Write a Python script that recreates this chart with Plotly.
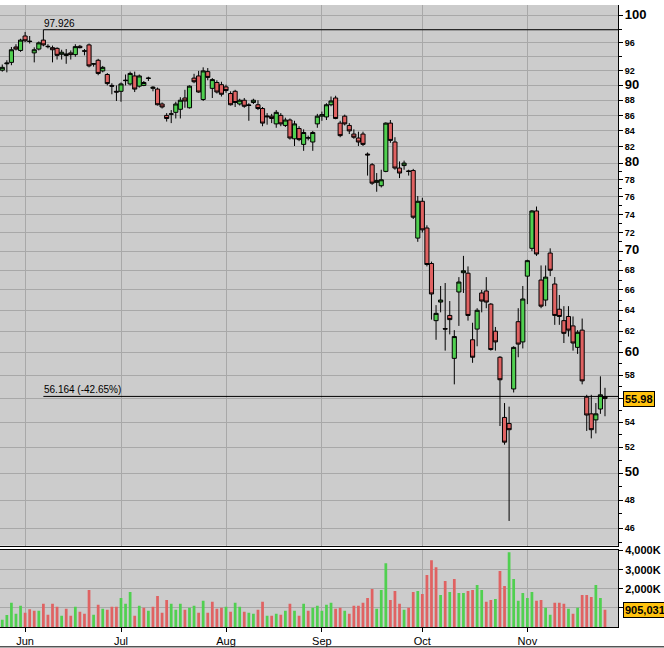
import math
import pandas as pd
import plotly.graph_objects as go

# ---------------- data ----------------
dates = [d.strftime('%Y-%m-%d') for d in pd.bdate_range('2008-05-26', '2008-11-26')]

opens = [92.1, 93.0, 93.2, 95.4, 94.9, 97.0, 96.25, 94.55, 95.1, 96.4,
         95.5, 95.3, 95.2, 94.35, 94.17, 94.55, 94.3, 95.5, 94.85, 95.7,
         92.95, 93.5, 92.0, 91.5, 90.0, 89.2, 89.2, 90.65, 90.2, 91.3,
         89.9, 90.0, 90.95, 89.6, 89.5, 87.5, 86.0, 86.15, 86.4, 86.8,
         88.3, 87.0, 91.0, 91.3, 88.1, 91.9, 89.6, 90.4, 90.1, 89.8,
         88.9, 89.2, 87.5, 88.0, 87.3, 87.7, 87.4, 86.9, 85.8, 85.9,
         84.9, 86.0, 84.7, 85.4, 83.0, 84.3, 82.3, 83.15, 82.6, 84.9,
         85.9, 85.8, 87.4, 88.3, 85.0, 85.9, 84.7, 83.6, 83.1, 83.6,
         81.1, 79.8, 77.7, 77.3, 79.0, 85.0, 82.6, 79.4, 79.7, 79.05,
         79.1, 71.4, 75.5, 72.5, 68.7, 63.0, 64.8, 62.25, 63.5, 59.5,
         65.8, 67.75, 67.7, 61.2, 62.2, 65.7, 65.9, 64.6, 62.0, 59.6,
         54.4, 53.9, 56.8, 62.9, 61.0, 67.4, 70.3, 74.4, 67.0, 65.0,
         69.8, 66.6, 64.1, 63.0, 63.4, 62.5, 60.5, 62.1, 56.1, 54.7,
         54.2, 55.1, 56.15]
highs = [92.9, 93.5, 95.4, 95.8, 96.6, 97.6, 97.0, 95.35, 96.2, 97.926,
         95.8, 95.6, 95.35, 95.0, 95.1, 94.9, 95.8, 95.7, 95.1, 95.9,
         93.1, 93.7, 92.7, 91.7, 90.3, 90.0, 90.4, 91.5, 91.9, 91.9,
         91.5, 90.6, 91.2, 89.9, 89.7, 87.7, 86.3, 86.7, 87.8, 88.4,
         89.4, 90.0, 91.6, 92.0, 92.5, 92.4, 91.0, 90.7, 90.5, 90.1,
         89.2, 89.4, 88.2, 88.3, 87.6, 88.2, 88.0, 87.1, 86.3, 86.2,
         86.7, 86.3, 85.7, 85.6, 85.3, 84.6, 84.2, 83.4, 84.0, 86.2,
         86.5, 87.6, 88.5, 88.6, 85.3, 86.1, 85.0, 84.2, 83.9, 83.9,
         81.3, 80.0, 78.8, 79.2, 85.1, 85.4, 83.2, 80.2, 80.3, 79.2,
         79.3, 76.1, 75.9, 72.8, 68.9, 64.5, 66.4, 66.7, 64.9, 62.1,
         67.3, 69.5, 68.4, 62.8, 64.2, 66.0, 67.3, 64.7, 62.4, 59.7,
         55.6, 55.3, 60.6, 64.2, 66.4, 69.1, 74.5, 74.9, 68.5, 68.5,
         70.3, 67.3, 65.5, 64.4, 64.4, 63.4, 62.1, 63.2, 56.3, 56.3,
         55.6, 57.9, 56.9]
lows = [91.9, 91.8, 92.8, 94.9, 94.7, 96.1, 95.9, 93.2, 94.9, 95.5,
        95.2, 93.2, 93.6, 93.6, 93.0, 93.6, 94.0, 95.2, 94.2, 92.5,
        92.6, 91.4, 91.8, 90.0, 88.8, 87.9, 87.8, 90.0, 90.0, 89.1,
        89.7, 89.9, 90.6, 89.2, 87.3, 86.9, 85.2, 85.0, 85.6, 85.6,
        87.0, 86.9, 90.3, 89.0, 87.9, 90.7, 88.3, 88.9, 88.5, 89.0,
        87.3, 87.1, 87.3, 87.0, 85.3, 87.5, 86.7, 84.6, 84.8, 85.0,
        84.4, 84.6, 84.5, 82.9, 82.1, 82.7, 81.5, 82.8, 81.5, 84.4,
        85.3, 85.4, 87.2, 85.5, 83.2, 84.7, 83.6, 83.0, 82.1, 82.1,
        78.5, 77.4, 76.6, 77.1, 78.9, 82.5, 79.2, 78.2, 79.2, 78.5,
        73.5, 71.0, 72.0, 68.4, 63.1, 61.2, 63.8, 60.2, 61.7, 57.2,
        62.5, 65.7, 63.0, 59.1, 60.6, 63.8, 64.2, 60.2, 60.2, 53.7,
        52.2, 46.5, 56.5, 59.6, 60.4, 64.6, 70.0, 69.5, 64.2, 64.4,
        67.4, 62.6, 62.6, 60.9, 61.5, 60.2, 59.9, 57.2, 53.3, 52.7,
        53.1, 54.7, 54.5]
closes = [92.5, 93.1, 95.0, 95.1, 96.4, 96.3, 96.2, 95.0, 96.0, 95.7,
          95.45, 95.0, 94.2, 94.64, 94.4, 94.3, 95.45, 95.3, 94.8, 92.7,
          93.0, 91.65, 92.5, 90.25, 89.9, 89.1, 90.2, 90.7, 91.65, 89.5,
          91.3, 90.4, 91.0, 89.75, 87.4, 87.1, 85.6, 86.2, 87.5, 88.0,
          87.9, 89.9, 90.5, 89.1, 92.0, 91.1, 90.8, 89.1, 88.8, 89.3,
          87.4, 87.7, 88.0, 87.2, 87.36, 88.0, 86.9, 85.0, 85.9, 85.6,
          86.4, 84.9, 85.4, 83.1, 84.9, 82.9, 83.8, 83.1, 83.8, 85.9,
          86.1, 87.4, 87.9, 85.6, 83.4, 84.9, 84.0, 83.2, 82.6, 82.3,
          81.0, 77.6, 77.9, 78.0, 85.0, 82.8, 79.4, 78.8, 80.0, 79.0,
          73.7, 75.5, 72.3, 68.6, 65.6, 63.7, 65.0, 62.2, 63.1, 61.5,
          66.8, 67.95, 63.5, 59.6, 64.0, 64.9, 64.8, 60.3, 61.0, 57.6,
          52.4, 53.4, 60.5, 60.8, 65.1, 69.0, 74.4, 69.7, 64.4, 67.3,
          68.0, 63.5, 63.4, 61.8, 62.1, 60.9, 61.9, 57.5, 54.6, 53.4,
          54.7, 56.3, 55.98]
volume_k = [381, 623, 1264, 693, 1108, 745, 935, 848, 848, 1212,
            641, 1212, 1056, 589, 952, 589, 1056, 797, 693, 1939,
            641, 1160, 952, 900, 1056, 1056, 1524, 1212, 1835, 589,
            1108, 1004, 848, 1056, 1628, 745, 1420, 1212, 900, 1212,
            900, 1004, 1108, 745, 1368, 745, 1316, 952, 1004, 1056,
            797, 1264, 1056, 797, 745, 693, 900, 1316, 589, 589,
            693, 641, 848, 1212, 848, 589, 1212, 848, 1004, 1108,
            848, 1160, 1264, 952, 1004, 848, 693, 1108, 1108, 1264,
            1524, 1991, 952, 1939, 3342, 1420, 1887, 1212, 900, 1004,
            1835, 1887, 1732, 2719, 3498, 3134, 1680, 2407, 1835, 2511,
            1784, 1784, 1887, 1939, 2199, 1939, 1316, 1420, 1472, 2926,
            2147, 3913, 2511, 1368, 1784, 1524, 1835, 1368, 1420, 1004,
            641, 1264, 1264, 1212, 952, 693, 1004, 1680, 1680, 1576,
            2199, 1524, 905.031]

peak_value = 97.926
level_value = 56.164
level_pct = -42.65
last_volume_shares = 905031

price_grid = list(range(46, 101, 2))
price_major = [100, 90, 80, 70, 60, 50]
price_hidden = [98, 94, 56]
price_minor = [98, 94] + list(range(45, 80, 2))
vol_ticks = [1000, 2000, 3000, 4000]

# ---------------- styles ----------------
GREEN = '#50D050'
RED = '#E06262'
PLOT_BG = '#CCCCCC'
GRID = '#A8A8A8'
LABEL_BG = '#FFC20E'
FONT = 'Liberation Sans, Arial, sans-serif'

n = len(dates)
peak_idx = highs.index(max(highs))

vol_colors = [GREEN] + [GREEN if closes[i] >= closes[i - 1] else RED for i in range(1, n)]

month_idx = [i for i in range(1, n) if dates[i][5:7] != dates[i - 1][5:7]]
month_vals = [dates[i] for i in month_idx]
month_text = [pd.Timestamp(dates[i]).strftime('%b') for i in month_idx]

def price_label(v):
    if v in price_hidden:
        return ''
    if v in price_major:
        return '<span style="font-size:13px">%d</span>' % v
    return str(v)

price_text = [price_label(v) for v in price_grid]
vol_text = ['' if v == 1000 else '{:,}K'.format(v) for v in vol_ticks]

x_range = [-0.5, 134.85]
y_range = [math.log10(44.79), math.log10(101.67)]

fig = go.Figure()
fig.add_trace(go.Candlestick(
    x=dates, open=opens, high=highs, low=lows, close=closes,
    increasing=dict(line=dict(color='black', width=1), fillcolor=GREEN),
    decreasing=dict(line=dict(color='black', width=1), fillcolor=RED),
    whiskerwidth=0, xaxis='x', yaxis='y', hoverinfo='skip', showlegend=False))
fig.add_trace(go.Bar(
    x=dates, y=volume_k, marker=dict(color=vol_colors, line=dict(width=0)),
    xaxis='x2', yaxis='y2', hoverinfo='skip', showlegend=False))

fig.update_layout(
    width=664, height=648,
    margin=dict(l=0, r=46, t=0, b=21),
    paper_bgcolor='white', plot_bgcolor=PLOT_BG,
    showlegend=False, bargap=0.4, boxgap=0.1, boxgroupgap=0,
    font=dict(family=FONT, color='black'),
    xaxis=dict(type='category', range=x_range, domain=[0, 1], anchor='y',
               rangeslider=dict(visible=False),
               tickvals=month_vals, ticktext=month_text, showticklabels=False,
               ticks='', showgrid=True, gridcolor=GRID, gridwidth=1,
               showline=True, linecolor='black', linewidth=1, zeroline=False),
    xaxis2=dict(type='category', matches='x', anchor='y2', domain=[0, 1],
                tickvals=month_vals, ticktext=month_text,
                ticks='outside', ticklen=4, tickcolor='black',
                tickfont=dict(size=11, family=FONT, color='black'),
                showgrid=True, gridcolor=GRID, gridwidth=1,
                showline=True, linecolor='black', linewidth=1, mirror=True,
                zeroline=False),
    yaxis=dict(type='log', domain=[1 - 545 / 627, 1], range=y_range,
               side='right', anchor='x',
               tickmode='array', tickvals=price_grid, ticktext=price_text,
               ticks='outside', ticklen=4, tickcolor='black',
               tickfont=dict(size=9, family=FONT, color='black', weight='bold'),
               minor=dict(tickmode='array', tickvals=price_minor, ticks='outside',
                          ticklen=3, tickcolor='black', showgrid=False),
               showgrid=True, gridcolor=GRID, gridwidth=1,
               showline=True, linecolor='black', linewidth=1, zeroline=False),
    yaxis2=dict(domain=[0, 78 / 627], range=[0, 4052], side='right', anchor='x2',
                tickmode='array', tickvals=vol_ticks, ticktext=vol_text,
                ticks='outside', ticklen=4, tickcolor='black',
                tickfont=dict(size=11, family=FONT, color='black', weight='bold'),
                showgrid=True, gridcolor=GRID, gridwidth=1,
                showline=True, linecolor='black', linewidth=1, zeroline=False),
)

# measurement lines from the peak
for val in (peak_value, level_value):
    fig.add_shape(type='line', xref='x', yref='y', x0=peak_idx, x1=x_range[1],
                  y0=val, y1=val, line=dict(color='black', width=1), layer='above')

fig.add_annotation(xref='x', yref='y', x=peak_idx, y=math.log10(peak_value),
                   text='{:.3f}'.format(peak_value), showarrow=False,
                   xanchor='left', yanchor='bottom', borderpad=0,
                   font=dict(size=10, family=FONT, color='black'))
fig.add_annotation(xref='x', yref='y', x=peak_idx, y=math.log10(level_value),
                   text='{:.3f} ({:.2f}%)'.format(level_value, level_pct), showarrow=False,
                   xanchor='left', yanchor='bottom', borderpad=0,
                   font=dict(size=10, family=FONT, color='black'))

# last value labels
fig.add_annotation(xref='paper', yref='y', x=623 / 618, y=math.log10(closes[-1]),
                   text='<b>{:.2f}</b>'.format(closes[-1]), showarrow=False,
                   xanchor='left', yanchor='middle', bgcolor=LABEL_BG,
                   bordercolor='black', borderwidth=1, borderpad=1,
                   font=dict(size=11, family=FONT, color='black'))
fig.add_annotation(xref='paper', yref='y2', x=623 / 618, y=last_volume_shares / 1000,
                   text='<b>{:,}</b>'.format(last_volume_shares), showarrow=False,
                   xanchor='left', yanchor='middle', bgcolor=LABEL_BG,
                   bordercolor='black', borderwidth=1, borderpad=1,
                   font=dict(size=11, family=FONT, color='black'))

# bottom frame line
fig.add_shape(type='line', xref='paper', yref='paper', x0=0, x1=664 / 618,
              y0=-20 / 627, y1=-20 / 627, line=dict(color='black', width=1))

fig.write_html('out.html',
               config={'displayModeBar': False, 'staticPlot': True},
               post_script="document.body.style.margin='0';document.body.style.overflow='hidden';")
